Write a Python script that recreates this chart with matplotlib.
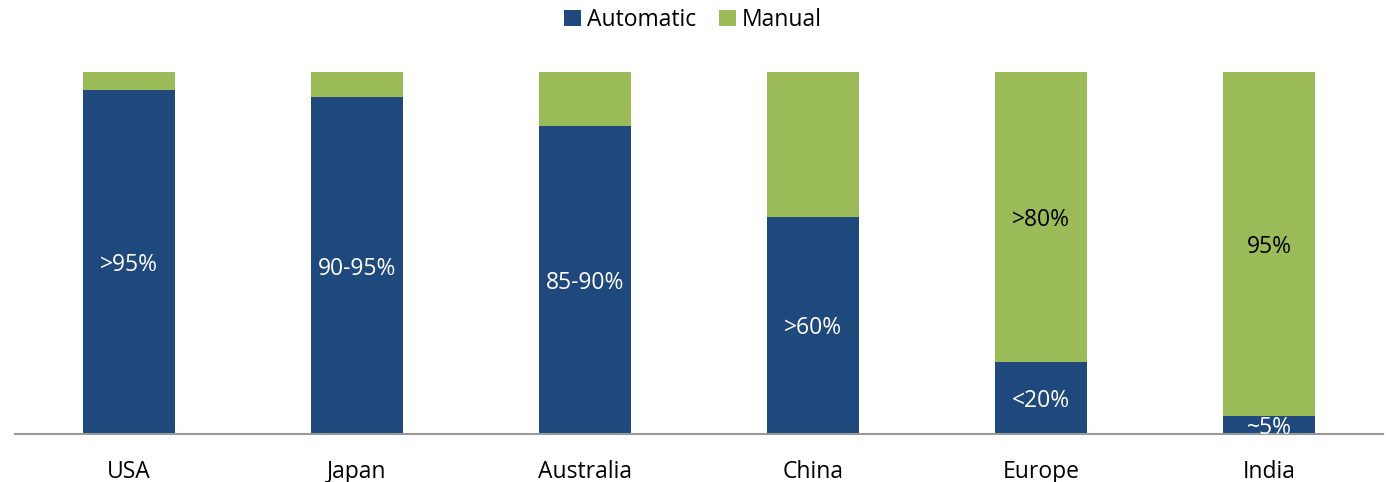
import matplotlib.pyplot as plt
import numpy as np

plt.rcParams['font.family'] = ['Open Sans', 'DejaVu Sans']

regions = ["USA", "Japan", "Australia", "China", "Europe", "India"]
automatic = [95, 93, 85, 60, 20, 5]
manual = [5, 7, 15, 40, 80, 95]
auto_labels = [">95%", "90-95%", "85-90%", ">60%", "<20%", "~5%"]
manual_labels = ["", "", "", "", ">80%", "95%"]

blue = "#1F497D"
green = "#9BBB59"

fig = plt.figure(figsize=(13.86, 4.82), dpi=100)
ax = fig.add_axes([15/1386, 48/482, 1368/1386, 362/482])

x = np.arange(len(regions))
ax.bar(x, automatic, width=0.4, color=blue, label="Automatic")
ax.bar(x, manual, width=0.4, bottom=automatic, color=green, label="Manual")

fs = 16.5
for i in range(len(regions)):
    ax.text(x[i], automatic[i] / 2, auto_labels[i], ha="center", va="center_baseline",
            color="white", fontsize=fs)
    if manual_labels[i]:
        ax.text(x[i], automatic[i] + manual[i] / 2, manual_labels[i],
                ha="center", va="center_baseline", color="black", fontsize=fs)

ax.set_xlim(-0.5, len(regions) - 0.5)
ax.set_ylim(0, 100)
ax.set_xticks(x)
ax.set_xticklabels(regions, fontsize=fs)
ax.tick_params(axis="x", length=0, pad=19)
ax.set_yticks([])
for s in ["top", "right", "left"]:
    ax.spines[s].set_visible(False)
ax.spines["bottom"].set_color("#999999")
ax.spines["bottom"].set_linewidth(1.5)

fig.legend(loc="center", bbox_to_anchor=(0.5, 1 - 20/482), ncol=2, frameon=False,
           fontsize=fs, handlelength=0.75, handleheight=0.75, handletextpad=0.25,
           columnspacing=1.0)

fig.savefig("out.png", dpi=100)
